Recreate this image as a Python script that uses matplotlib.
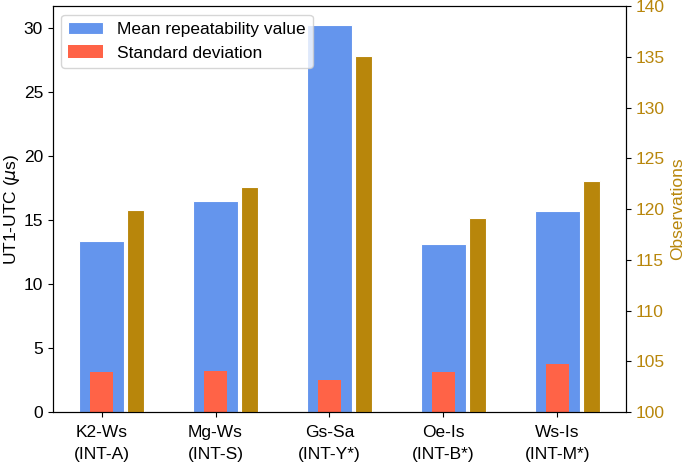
import numpy as np
import matplotlib
matplotlib.use('Agg')
import matplotlib.pyplot as plt

plt.rcParams['font.family'] = ['Liberation Sans', 'DejaVu Sans']
plt.rcParams['font.size'] = 12.5

# Data
baselines = ['K2-Ws\n(INT-A)', 'Mg-Ws\n(INT-S)', 'Gs-Sa\n(INT-Y*)', 'Oe-Is\n(INT-B*)', 'Ws-Is\n(INT-M*)']
mean_repeat = [13.36, 16.46, 30.18, 13.1, 15.68]
std_dev = [3.15, 3.18, 2.52, 3.13, 3.72]
observations = [119.93, 122.14, 135.07, 119.08, 122.76]

x = np.arange(len(baselines))
gold = '#B8860B'

fig, ax = plt.subplots(figsize=(6.85, 4.62), dpi=100)
ax.bar(x, mean_repeat, width=0.4, color='cornflowerblue', edgecolor='white',
       linewidth=0.8, label='Mean repeatability value')
ax.bar(x, std_dev, width=0.2, color='tomato', label='Standard deviation')
ax.set_ylabel(r'UT1-UTC ($\mu$s)', labelpad=1)
ax.set_xticks(x)
ax.set_xticklabels(baselines, linespacing=1.6)
ax.tick_params(axis='x', pad=6)
ax.legend(loc='upper left')

ax2 = ax.twinx()
ax2.bar(x + 0.3, observations, width=0.15, color=gold, edgecolor='white', linewidth=0.8)
ax2.set_ylim(100, 140)
ax2.set_ylabel('Observations', color=gold)
ax2.tick_params(axis='y', labelcolor=gold)

fig.subplots_adjust(left=0.077, right=0.914, top=0.987, bottom=0.108)
fig.savefig('out.png', dpi=100)
